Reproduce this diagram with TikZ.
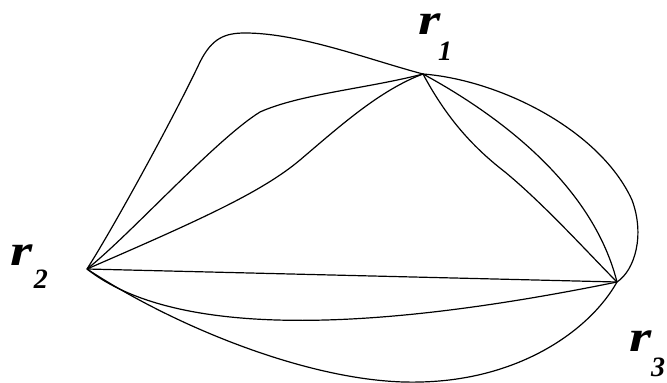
\documentclass[tikz,border=0pt]{standalone}
\usepackage{fontspec}
\setmainfont{Liberation Serif}
\begin{document}
\begin{tikzpicture}[x=1pt,y=-1pt,
  edge/.style={draw=black,line width=1.2pt,line join=round},
  rlab/.style={inner sep=0pt,font=\fontsize{44}{44}\selectfont\bfseries\itshape},
  sublab/.style={inner sep=0pt,font=\fontsize{28}{28}\selectfont\bfseries\itshape}]
\useasboundingbox[fill=white] (0,0) rectangle (667,383);
\coordinate (r1) at (423,74);
\coordinate (r2) at (87,269);
\coordinate (r3) at (617,282);
% labels
\node[rlab] (l1) at (430,24) {\scalebox{1.3}[1]{r}};
\node[sublab] (s1) at (445,51) {1};
\node[rlab] (l2) at (22,255) {\scalebox{1.3}[1]{r}};
\node[sublab] (s2) at (41,279) {2};
\node[rlab] (l3) at (641,341) {\scalebox{1.3}[1]{r}};
\node[sublab] (s3) at (658,367) {3};
% r2 -- r1
\draw[edge] (r2) .. controls (115,225) and (175,115) .. (200,62)
  .. controls (212,38) and (225,33) .. (245,33)
  .. controls (300,33) and (370,60) .. (r1);
\draw[edge] (r2) .. controls (130,235) and (215,140) .. (260,112)
  .. controls (300,94) and (370,88) .. (r1);
\draw[edge] (r2) .. controls (200,220) and (262,192) .. (300,160)
  .. controls (340,126) and (380,90) .. (r1);
% r2 -- r3
\draw[edge] (r2) -- (r3);
\draw[edge] (r2) .. controls (190,350) and (430,320) .. (r3);
\draw[edge] (r2) .. controls (180,330) and (320,385) .. (420,382)
  .. controls (520,380) and (590,330) .. (r3);
% r1 -- r3
\draw[edge] (r1) .. controls (500,80) and (600,130) .. (632,200)
  .. controls (645,235) and (635,270) .. (r3);
\draw[edge] (r1) .. controls (480,105) and (590,175) .. (r3);
\draw[edge] (r1) .. controls (445,115) and (470,145) .. (505,172)
  .. controls (545,205) and (590,255) .. (r3);
\end{tikzpicture}
\end{document}
